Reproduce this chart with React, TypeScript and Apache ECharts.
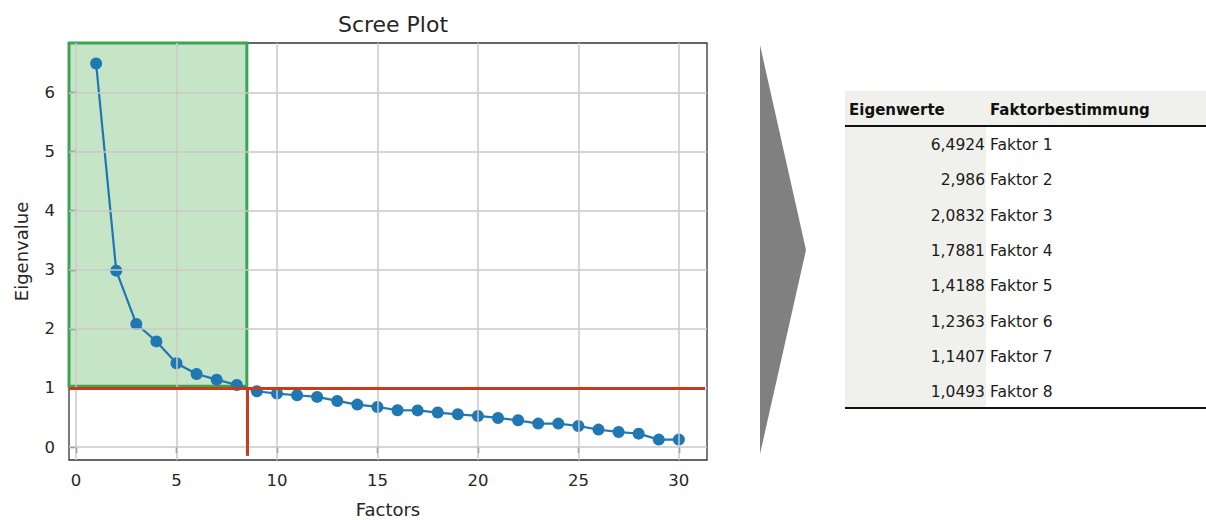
import React, { useEffect, useRef } from "react";
import * as echarts from "echarts";

const factors = [1, 2, 3, 4, 5, 6, 7, 8, 9, 10, 11, 12, 13, 14, 15, 16, 17, 18, 19, 20, 21, 22, 23, 24, 25, 26, 27, 28, 29, 30];
const eigenvalues = [
  6.4924, 2.986, 2.0832, 1.7881, 1.4188, 1.2363, 1.1407, 1.0493,
  0.944, 0.904, 0.876, 0.848, 0.78, 0.718, 0.678, 0.622, 0.62, 0.583,
  0.554, 0.526, 0.492, 0.452, 0.396, 0.396, 0.356, 0.295, 0.254, 0.226,
  0.125, 0.125,
];
const xTicks = [0, 5, 10, 15, 20, 25, 30];
const yTicks = [0, 1, 2, 3, 4, 5, 6];
const kaiserThreshold = 1;
const factorCutoff = 8.5;
const retainedCount = 8;
const tableHeaders = ["Eigenwerte", "Faktorbestimmung"];
const tableValues = eigenvalues.slice(0, retainedCount);
const tableLabels = ["Faktor 1", "Faktor 2", "Faktor 3", "Faktor 4", "Faktor 5", "Faktor 6", "Faktor 7", "Faktor 8"];

const X_MIN = -0.35;
const X_MAX = 31.4;
const Y_MIN = -0.22;
const Y_MAX = 6.84;

export default function App() {
  const ref = useRef<HTMLDivElement>(null);

  useEffect(() => {
    if (!ref.current) return;
    const chart = echarts.init(ref.current, undefined, { renderer: "svg" });
    const textColor = "#262626";
    const font = "DejaVu Sans";

    const gridLines: any[] = [
      ...xTicks.map((v) => ({ xAxis: v })),
      ...yTicks.map((v) => ({ yAxis: v })),
    ];

    const tableGraphics: any[] = [];
    tableGraphics.push({
      type: "polygon",
      shape: { points: [[760, 45], [806, 250], [760, 454]] },
      style: { fill: "#808080" },
    });
    tableGraphics.push({ type: "rect", shape: { x: 845, y: 91, width: 361, height: 35 }, style: { fill: "#f0f0ec" } });
    tableGraphics.push({ type: "rect", shape: { x: 845, y: 126, width: 141, height: 282 }, style: { fill: "#f0f0ec" } });
    tableGraphics.push({ type: "line", shape: { x1: 845, y1: 126, x2: 1206, y2: 126 }, style: { stroke: "#111", lineWidth: 2 } });
    tableGraphics.push({ type: "line", shape: { x1: 845, y1: 408, x2: 1206, y2: 408 }, style: { stroke: "#111", lineWidth: 2 } });
    tableGraphics.push({
      type: "text", x: 849, y: 110,
      style: { text: tableHeaders[0], fill: "#111", font: `bold 15px '${font}'`, verticalAlign: "middle" },
    });
    tableGraphics.push({
      type: "text", x: 990, y: 110,
      style: { text: tableHeaders[1], fill: "#111", font: `bold 15px '${font}'`, verticalAlign: "middle" },
    });
    tableValues.forEach((v, i) => {
      const y = 145 + i * 35.3;
      tableGraphics.push({
        type: "text", x: 985, y,
        style: {
          text: String(v).replace(".", ","), fill: "#1a1a1a", font: `15.5px '${font}'`,
          align: "right", verticalAlign: "middle",
        },
      });
      tableGraphics.push({
        type: "text", x: 990, y,
        style: {
          text: tableLabels[i], fill: "#1a1a1a", font: `15.5px '${font}'`,
          align: "left", verticalAlign: "middle",
        },
      });
    });

    chart.setOption({
      animation: false,
      backgroundColor: "#ffffff",
      title: {
        text: "Scree Plot",
        left: 388,
        top: 8,
        textAlign: "center",
        textStyle: { fontFamily: font, fontSize: 22, fontWeight: "normal", color: textColor },
      },
      grid: {
        left: 69,
        right: 499,
        top: 43,
        bottom: 60,
        outerBoundsMode: "none",
        containLabel: false,
        show: true,
        borderColor: "#333",
        borderWidth: 1.3,
        backgroundColor: "transparent",
      },
      xAxis: {
        type: "value",
        min: X_MIN,
        max: X_MAX,
        name: "Factors",
        nameLocation: "middle",
        nameGap: 40,
        nameTextStyle: { fontFamily: font, fontSize: 18, color: textColor },
        axisLine: { show: false },
        axisTick: { show: true, customValues: xTicks, length: 6, lineStyle: { color: "#333", width: 1.3 } },
        axisLabel: { customValues: xTicks, fontFamily: font, fontSize: 16.5, color: textColor, margin: 12 },
        splitLine: { show: false },
      },
      yAxis: {
        type: "value",
        min: Y_MIN,
        max: Y_MAX,
        name: "Eigenvalue",
        nameLocation: "middle",
        nameGap: 39,
        nameTextStyle: { fontFamily: font, fontSize: 18, color: textColor },
        axisLine: { show: false },
        axisTick: { show: true, customValues: yTicks, length: 6, lineStyle: { color: "#333", width: 1.3 } },
        axisLabel: { customValues: yTicks, fontFamily: font, fontSize: 16.5, color: textColor, margin: 14 },
        splitLine: { show: false },
      },
      series: [
        {
          type: "line",
          data: [],
          z: 1,
          silent: true,
          markLine: {
            silent: true,
            symbol: "none",
            label: { show: false },
            lineStyle: { color: "#c8c8c8", width: 1.5, type: "solid" },
            emphasis: { disabled: true },
            data: gridLines,
          },
        },
        {
          type: "line",
          data: factors.map((f, i) => [f, eigenvalues[i]]),
          z: 3,
          symbol: "circle",
          symbolSize: 12,
          showSymbol: true,
          lineStyle: { color: "#1f77b4", width: 2.2 },
          itemStyle: { color: "#1f77b4" },
        },
        {
          type: "line",
          data: [],
          z: 5,
          silent: true,
          markArea: {
            silent: true,
            itemStyle: {
              color: "rgba(44,160,44,0.27)",
              borderColor: "#3aa655",
              borderWidth: 3,
            },
            label: { show: false },
            data: [[{ coord: [X_MIN, 1.03] }, { coord: [factorCutoff, Y_MAX] }]],
          },
          markLine: {
            silent: true,
            symbol: "none",
            label: { show: false },
            lineStyle: { color: "#cc3a1c", width: 3, type: "solid" },
            data: [
              [{ coord: [X_MIN, kaiserThreshold] }, { coord: [31.3, kaiserThreshold] }],
              [{ coord: [factorCutoff, -0.15] }, { coord: [factorCutoff, kaiserThreshold] }],
            ],
          },
        },
      ],
      graphic: tableGraphics,
    });

    return () => chart.dispose();
  }, []);

  return (
    <div
      ref={ref}
      style={{ position: "absolute", left: 0, top: 0, width: 1206, height: 520 }}
    />
  );
}
